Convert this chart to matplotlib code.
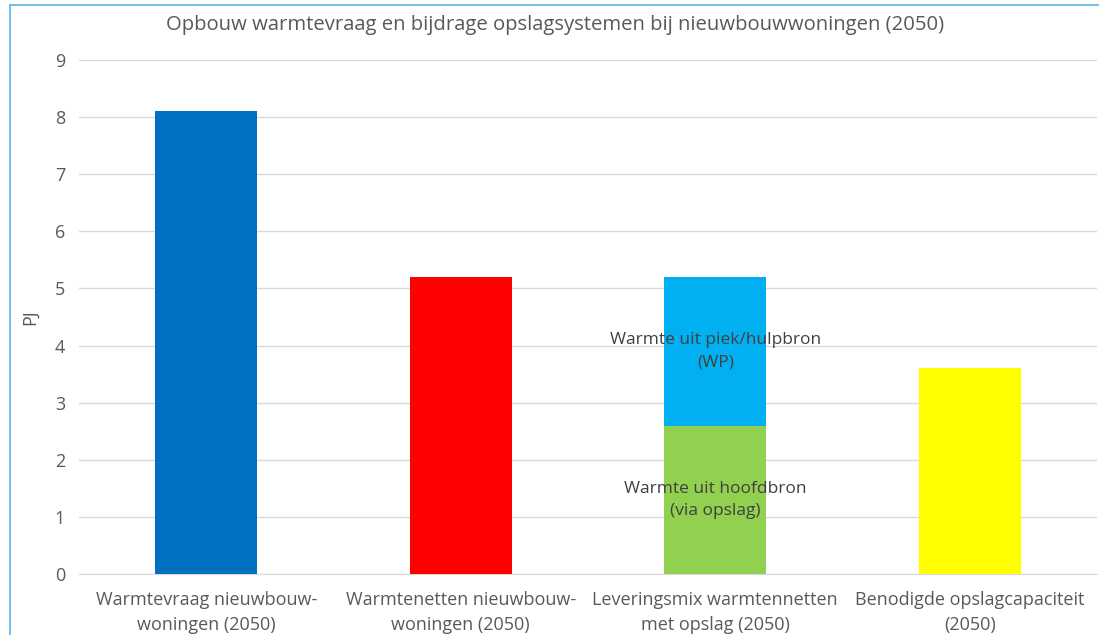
import matplotlib.pyplot as plt
from matplotlib.patches import Rectangle

plt.rcParams['font.family'] = ['Open Sans', 'DejaVu Sans']

# data
categories = ['Warmtevraag nieuwbouw-\nwoningen (2050)',
              'Warmtenetten nieuwbouw-\nwoningen (2050)',
              'Leveringsmix warmtennetten\nmet opslag (2050)',
              'Benodigde opslagcapaciteit\n(2050)']
single_values = [8.1, 5.2, None, 3.6]
single_colors = ['#0070C0', '#FF0000', None, '#FFFF00']
mix_main = 2.6    # warmte uit hoofdbron (via opslag)
mix_peak = 2.6    # warmte uit piek/hulpbron (WP)
mix_labels = ['Warmte uit hoofdbron\n(via opslag)', 'Warmte uit piek/hulpbron\n(WP)']

text_color = '#595959'
grid_color = '#D9D9D9'

fig = plt.figure(figsize=(10.99, 6.35), dpi=100)
ax = fig.add_axes([79 / 1099, 1 - 574 / 635, 1018 / 1099, (574 - 60) / 635])

x = list(range(len(categories)))
w = 0.4
for i, v in enumerate(single_values):
    if v is not None:
        ax.bar(x[i], v, width=w, color=single_colors[i], zorder=3)

ax.bar(x[2], mix_main, width=w, color='#92D050', zorder=3)
ax.bar(x[2], mix_peak, width=w, bottom=mix_main, color='#00B0F0', zorder=3)
ax.text(x[2], mix_main / 2, mix_labels[0], ha='center', va='center',
        fontsize=12.5, color='#404040', zorder=4, linespacing=1.5)
ax.text(x[2], mix_main + mix_peak / 2, mix_labels[1], ha='center', va='center',
        fontsize=12.5, color='#404040', zorder=4, linespacing=1.5)

ax.set_xlim(-0.5, 3.5)
ax.set_ylim(0, 9)
ax.set_yticks(range(0, 10))
ax.yaxis.grid(True, color=grid_color, linewidth=1, zorder=0)
for s in ['top', 'right', 'left']:
    ax.spines[s].set_visible(False)
ax.spines['bottom'].set_color(grid_color)
ax.tick_params(axis='both', length=0, colors=text_color, labelsize=13)
ax.tick_params(axis='y', pad=10)
ax.tick_params(axis='x', pad=12)
ax.set_xticks(x)
ax.set_xticklabels(categories, linespacing=1.5)
ax.set_ylabel('PJ', color=text_color, fontsize=13)
ax.yaxis.set_label_coords((39 - 79) / 1018, 0.5)

fig.text(555 / 1099, 1 - 25 / 635, 'Opbouw warmtevraag en bijdrage opslagsystemen bij nieuwbouwwoningen (2050)',
         ha='center', va='center', fontsize=14.6, color=text_color)

# chart frame
fig.patches.append(Rectangle((10 / 1099, -0.1), 1.2, 1 - 5 / 635 + 0.1,
                             transform=fig.transFigure, fill=False,
                             edgecolor='#5BB4E5', linewidth=1.2))

fig.savefig('out.png', dpi=100)
